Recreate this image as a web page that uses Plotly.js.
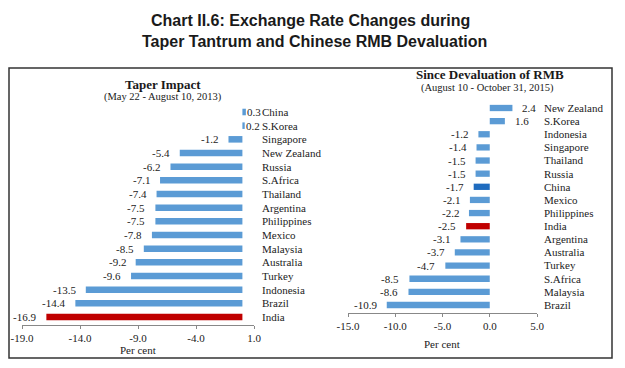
<!DOCTYPE html>
<html><head><meta charset="utf-8">
<script src="https://cdn.plot.ly/plotly-3.0.1.min.js"></script>
<style>html,body{margin:0;padding:0;background:#fff}#chart{width:625px;height:368px}</style>
</head><body><div id="chart"></div>
<script>
// Data (top to bottom)
const taperCountries = ["China","S.Korea","Singapore","New Zealand","Russia","S.Africa","Thailand","Argentina","Philippines","Mexico","Malaysia","Australia","Turkey","Indonesia","Brazil","India"];
const taperValues = [0.3,0.2,-1.2,-5.4,-6.2,-7.1,-7.4,-7.5,-7.5,-7.8,-8.5,-9.2,-9.6,-13.5,-14.4,-16.9];
const rmbCountries = ["New Zealand","S.Korea","Indonesia","Singapore","Thailand","Russia","China","Mexico","Philippines","India","Argentina","Australia","Turkey","S.Africa","Malaysia","Brazil"];
const rmbValues = [2.4,1.6,-1.2,-1.4,-1.5,-1.5,-1.7,-2.1,-2.2,-2.5,-3.1,-3.7,-4.7,-8.5,-8.6,-10.9];
const taperTicks = [-19,-14,-9,-4,1];
const rmbTicks = [-15,-10,-5,0,5];

const W = 625, H = 368;
const px = v => v / W, py = v => 1 - v / H;
const BLUE = "#5b9bd5", RED = "#c00000", DARK = "#1f6cbf";
const serif = "Liberation Serif, Times New Roman, serif";

const taperColors = taperCountries.map(c => c === "India" ? RED : BLUE);
const rmbColors = rmbCountries.map(c => c === "India" ? RED : (c === "China" ? DARK : BLUE));

const traces = [
  {type:"bar", orientation:"h", x:taperValues, y:taperCountries, xaxis:"x", yaxis:"y",
   marker:{color:taperColors}, width:0.48, hoverinfo:"skip"},
  {type:"bar", orientation:"h", x:rmbValues, y:rmbCountries, xaxis:"x2", yaxis:"y2",
   marker:{color:rmbColors}, width:0.48, hoverinfo:"skip"}
];

const annotations = [];
function valueLabels(vals, cats, xr, yr, posShift) {
  vals.forEach((v, i) => {
    annotations.push({xref:xr, yref:yr, x:v, y:cats[i], text:v.toFixed(1), showarrow:false,
      xanchor: v >= 0 ? "left" : "right", xshift: v >= 0 ? posShift : -8,
      font:{family:serif, size:11, color:"#222"}});
  });
}
valueLabels(taperValues, taperCountries, "x", "y", -1);
valueLabels(rmbValues, rmbCountries, "x2", "y2", 8);

function txt(x, y, text, size, bold, family) {
  annotations.push({xref:"paper", yref:"paper", x:px(x), y:py(y), text: bold ? "<b>"+text+"</b>" : text,
    showarrow:false, xanchor:"center", yanchor:"middle", font:{family:family||serif, size:size, color:"#1a1a1a"}});
}
txt(310, 20, "Chart II.6: Exchange Rate Changes during", 16, true, "Liberation Sans, Arial, sans-serif");
txt(314, 42, "Taper Tantrum and Chinese RMB Devaluation", 16, true, "Liberation Sans, Arial, sans-serif");
txt(163, 84, "Taper Impact", 13, true);
txt(163, 97, "(May 22 - August 10, 2013)", 10.5, false);
txt(490, 75, "Since Devaluation of RMB", 13, true);
txt(487, 88, "(August 10 - October 31, 2015)", 10.5, false);
txt(138, 350, "Per cent", 11, false);
txt(442, 344, "Per cent", 11, false);

const axisFont = {family:serif, size:11, color:"#222"};
const layout = {
  width:W, height:H, margin:{l:0,r:0,t:0,b:0}, paper_bgcolor:"#fff", plot_bgcolor:"rgba(0,0,0,0)",
  showlegend:false, font:{family:serif},
  xaxis:{domain:[px(22), px(254)], range:[-19,1], tickvals:taperTicks, ticktext:taperTicks.map(t=>t.toFixed(1)),
    showgrid:false, zeroline:false, showline:true, linecolor:"#888", linewidth:1, ticks:"outside", ticklen:3,
    tickcolor:"#888", tickfont:axisFont, anchor:"y", fixedrange:true},
  yaxis:{domain:[py(325), py(104)], autorange:"reversed", side:"right", showgrid:false, zeroline:false,
    showline:false, ticks:"", tickfont:axisFont, anchor:"x", ticklabelstandoff:7},
  xaxis2:{domain:[px(348), px(537)], range:[-15,5], tickvals:rmbTicks, ticktext:rmbTicks.map(t=>t.toFixed(1)),
    showgrid:false, zeroline:false, showline:true, linecolor:"#888", linewidth:1, ticks:"outside", ticklen:3,
    tickcolor:"#888", tickfont:axisFont, anchor:"y2"},
  yaxis2:{domain:[py(313), py(100)], autorange:"reversed", side:"right", showgrid:false, zeroline:false,
    showline:false, ticks:"", tickfont:axisFont, anchor:"x2", ticklabelstandoff:6},
  yaxis3:{overlaying:"y", anchor:"free", position:px(242.4), range:[15.5,-0.5],
    tickvals:Array.from({length:17},(_, i)=>i-0.5), showticklabels:false, ticks:"outside", side:"right",
    ticklen:3, tickcolor:"#999", showline:true, linecolor:"#999", linewidth:1, showgrid:false, zeroline:false},
  yaxis4:{overlaying:"y2", anchor:"free", position:px(489), range:[15.5,-0.5],
    tickvals:Array.from({length:17},(_, i)=>i-0.5), showticklabels:false, ticks:"outside", side:"right",
    ticklen:3, tickcolor:"#999", showline:true, linecolor:"#999", linewidth:1, showgrid:false, zeroline:false},
  annotations:annotations,
  shapes:[{type:"rect", xref:"paper", yref:"paper", x0:px(9), x1:px(612), y0:py(358), y1:py(68),
    line:{color:"#333", width:1.5}}]
};
Plotly.newPlot("chart", traces, layout, {staticPlot:true});
</script></body></html>
